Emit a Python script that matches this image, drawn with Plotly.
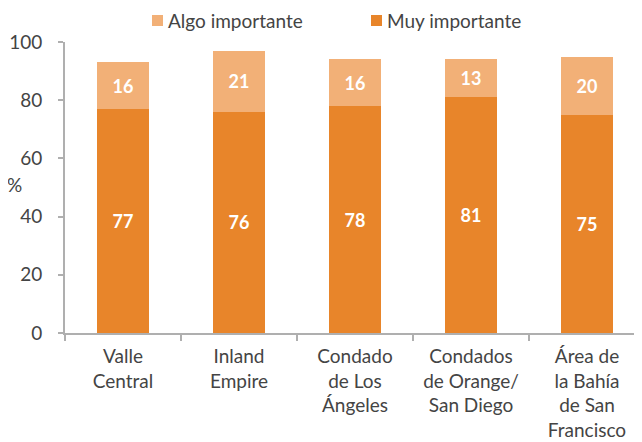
import plotly.graph_objects as go

categories = ["Valle<br>Central", "Inland<br>Empire", "Condado<br>de Los<br>Ángeles",
              "Condados<br>de Orange/<br>San Diego", "Área de<br>la Bahía<br>de San<br>Francisco"]
muy_importante = [77, 76, 78, 81, 75]
algo_importante = [16, 21, 16, 13, 20]
y_ticks = [0, 20, 40, 60, 80, 100]

DARK = "#E8852A"
LIGHT = "#F2B077"
FONT = "Lato"
GRAY = "#444444"
AXIS = "#AFAFAF"

# the page body has an 8px margin: work in page pixels, convert to figure pixels
OFF = 8
W, H = 642 - OFF, 442 - OFF
L, R, T, B = 65 - OFF, 642 - OFF, 42 - OFF, 333 - OFF


def px_x(p):
    return (p - OFF - L) / (R - L)


def px_y(p):
    return (B - (p - OFF)) / (B - T)


fig = go.Figure()
fig.add_trace(go.Bar(
    x=categories, y=muy_importante, name="Muy importante",
    marker=dict(color=DARK, line=dict(width=0)),
    text=muy_importante, textposition="inside", insidetextanchor="middle",
    textangle=0, constraintext="none",
    textfont=dict(color="white", size=18, family=FONT, weight="bold"),
))
fig.add_trace(go.Bar(
    x=categories, y=algo_importante, name="Algo importante",
    marker=dict(color=LIGHT, line=dict(width=0)),
    text=algo_importante, textposition="inside", insidetextanchor="middle",
    textangle=0, constraintext="none",
    textfont=dict(color="white", size=18, family=FONT, weight="bold"),
))

# manual legend (order: Algo, Muy), positions in page pixels
legend_items = [("Algo importante", LIGHT, 152), ("Muy importante", DARK, 371)]
LEG_Y = 20.5
shapes = []
annotations = []
for name, color, sx in legend_items:
    shapes.append(dict(type="rect", xref="paper", yref="paper",
                       x0=px_x(sx), x1=px_x(sx + 11), y0=px_y(LEG_Y + 5.5), y1=px_y(LEG_Y - 5.5),
                       fillcolor=color, line=dict(width=0)))
    annotations.append(dict(text=name, xref="paper", yref="paper",
                            x=px_x(sx + 14), y=px_y(LEG_Y), xanchor="left", yanchor="middle",
                            showarrow=False, font=dict(size=19, color=GRAY, family=FONT)))
annotations.append(dict(text="%", xref="paper", yref="paper",
                        x=px_x(14), y=px_y(184), xanchor="center", yanchor="middle",
                        showarrow=False, font=dict(size=19, color=GRAY, family=FONT)))

fig.update_layout(
    barmode="stack",
    bargap=0.55,
    width=W, height=H,
    margin=dict(l=L, r=W - R, t=T, b=H - B, autoexpand=False),
    plot_bgcolor="white", paper_bgcolor="white",
    font=dict(family=FONT, size=19, color=GRAY),
    showlegend=False,
    xaxis=dict(
        type="category", range=[-0.5, 4.474],
        showline=True, linecolor=AXIS, linewidth=2,
        ticks="outside", tickson="boundaries", ticklen=6, tickcolor=AXIS, tickwidth=2,
        tickfont=dict(size=19, color=GRAY), showgrid=False, ticklabelstandoff=5,
    ),
    yaxis=dict(
        range=[0, 100], tickvals=y_ticks,
        showline=True, linecolor=AXIS, linewidth=2,
        ticks="outside", ticklen=5, tickcolor=AXIS, tickwidth=2,
        tickfont=dict(size=19, color=GRAY), showgrid=False, zeroline=False,
        ticklabelstandoff=12,
    ),
    shapes=shapes,
    annotations=annotations,
)

fig.write_html("out.html", config={"displayModeBar": False})
